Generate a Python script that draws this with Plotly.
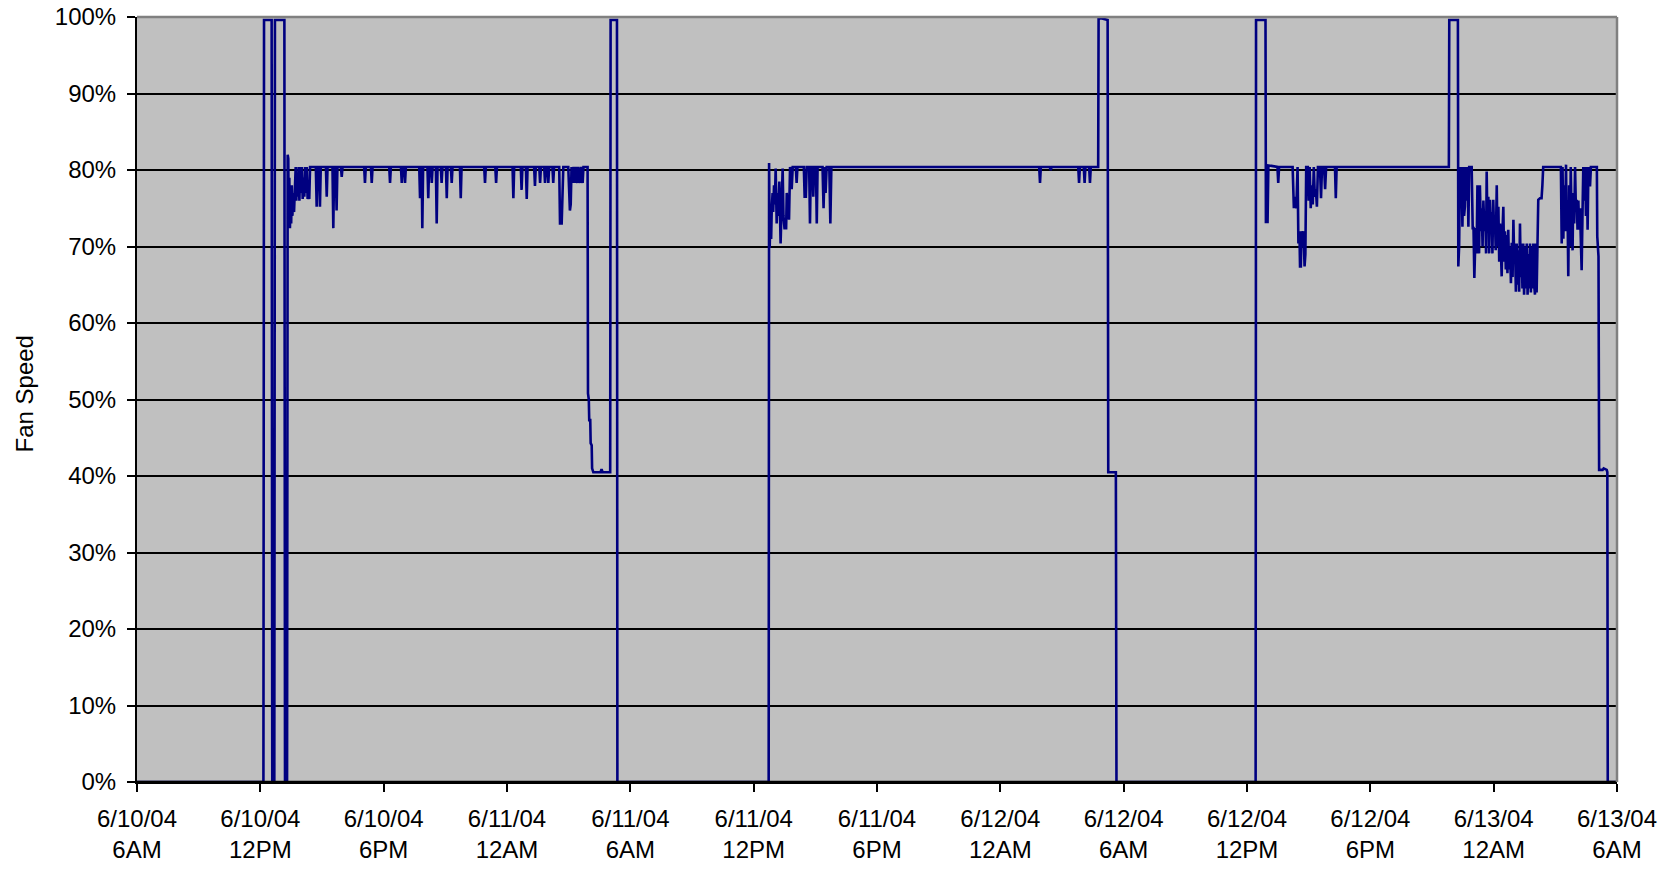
import pandas as pd
import plotly.graph_objects as go

# ---------------- data (hours after 6/10/04 6AM, fan speed %) ----------------
seg1_hours = [0, 6.15, 6.18, 6.55, 6.58, 6.68, 6.71, 7.17, 7.20, 7.30, 7.33, 7.36, 7.38, 7.41, 7.44,
              7.47, 7.50, 7.53, 7.56, 7.60, 7.64, 7.69, 7.72, 7.75, 7.78, 7.82, 7.86, 7.90, 7.94,
              7.98, 8.02, 8.06, 8.10, 8.14, 8.18, 8.22, 8.26, 8.30, 8.34, 8.38, 8.42, 8.70, 8.74,
              8.78, 8.86, 8.90, 8.94, 9.19, 9.23, 9.27, 9.51, 9.55, 9.59, 9.67, 9.71, 9.75, 9.92,
              9.96, 10.0, 11.05, 11.09, 11.13, 11.38, 11.42, 11.46, 12.27, 12.31, 12.35, 12.84,
              12.88, 12.92, 13.00, 13.04, 13.08, 13.73, 13.77, 13.81, 13.85, 13.88, 13.92, 14.13,
              14.17, 14.21, 14.30, 14.34, 14.38, 14.54, 14.58, 14.62, 14.78, 14.82, 14.86, 15.03,
              15.07, 15.11, 15.27, 15.31, 15.35, 15.71, 15.75, 15.79, 16.89, 16.93, 16.97, 17.43,
              17.47, 17.51, 18.27, 18.31, 18.35, 18.67, 18.71, 18.75, 18.92, 18.96, 19.00, 19.32,
              19.36, 19.40, 19.57, 19.61, 19.65, 19.81, 19.85, 19.89, 19.97, 20.01, 20.05, 20.21,
              20.25, 20.29, 20.54, 20.58, 20.66, 20.74, 20.98, 21.02, 21.06, 21.10, 21.14, 21.20,
              21.24, 21.30, 21.34, 21.42, 21.46, 21.55, 21.60, 21.68, 21.72, 21.92, 21.94, 21.98,
              22.00, 22.05, 22.07, 22.12, 22.14, 22.20, 22.55, 22.60, 22.65, 23.02, 23.04, 23.35,
              23.37]
seg1_speed = [0, 0, 99.6, 99.6, 0, 0, 99.6, 99.6, 0, 0, 82.0, 81.5, 73.5, 79.0, 72.4,
              76.0, 73.0, 78.0, 74.0, 77.0, 74.5, 80.4, 80.4, 76.0, 79.5, 76.5, 80.4, 76.0, 80.4,
              77.0, 80.4, 76.2, 79.0, 76.5, 80.4, 77.0, 80.4, 76.2, 78.5, 76.2, 80.4, 80.4, 75.2,
              80.4, 80.4, 75.2, 80.4, 80.4, 76.5, 80.4, 80.4, 72.4, 80.4, 80.4, 74.7, 80.4, 80.4,
              79.1, 80.4, 80.4, 78.3, 80.4, 80.4, 78.3, 80.4, 80.4, 78.3, 80.4, 80.4,
              78.3, 80.4, 80.4, 78.3, 80.4, 80.4, 76.3, 80.4, 80.4, 72.4, 80.4, 80.4,
              76.3, 80.4, 80.4, 78.3, 80.4, 80.4, 73.0, 80.4, 80.4, 78.3, 80.4, 80.4,
              76.3, 80.4, 80.4, 78.3, 80.4, 80.4, 76.3, 80.4, 80.4, 78.3, 80.4, 80.4,
              78.3, 80.4, 80.4, 76.3, 80.4, 80.4, 77.4, 80.4, 80.4, 76.2, 80.4, 80.4,
              77.9, 80.4, 80.4, 78.3, 80.4, 80.4, 78.3, 80.4, 80.4, 78.3, 80.4, 80.4,
              78.3, 80.4, 80.4, 73.0, 73.0, 80.4, 80.4, 77.9, 74.7, 75.5, 80.4, 78.3,
              80.4, 78.3, 80.4, 78.3, 80.4, 78.3, 80.4, 78.3, 80.4, 80.4, 50.8, 50.0,
              47.3, 47.3, 44.3, 44.0, 41.0, 40.5, 40.5, 40.9, 40.5, 40.5, 99.6, 99.6,
              0]

seg2_hours = [30.73, 30.75, 30.78, 30.82, 30.85, 30.88, 30.92, 30.95, 30.99, 31.03, 31.07, 31.12,
              31.16, 31.20, 31.25, 31.31, 31.36, 31.41, 31.45, 31.50, 31.58, 31.61, 31.66, 31.72,
              31.77, 31.85, 31.90, 32.05, 32.09, 32.13, 32.44, 32.48, 32.54, 32.58, 32.70, 32.74,
              32.78, 32.86, 32.90, 32.94, 33.03, 33.07, 33.11, 33.35, 33.40, 33.45, 33.50, 33.55,
              33.68, 33.73, 33.78, 43.89, 43.93, 43.97, 44.40, 44.45, 44.50, 45.79, 45.83, 45.87,
              46.06, 46.10, 46.14, 46.32, 46.36, 46.40, 46.76, 46.78, 46.95, 47.22, 47.25, 47.62,
              47.65]
seg2_speed = [0, 80.9, 69.8, 75.2, 71.0, 75.0, 77.0, 74.5, 78.0, 75.5, 80.2, 73.0,
              77.0, 74.0, 78.5, 70.4, 76.0, 80.2, 74.0, 72.4, 72.4, 77.0, 75.0, 73.5,
              80.4, 77.5, 80.4, 80.4, 78.3, 80.4, 80.4, 76.5, 76.5, 80.4, 80.4, 73.0,
              80.4, 80.4, 76.5, 80.4, 80.4, 73.0, 80.4, 80.4, 75.0, 80.4, 77.0, 80.4,
              80.4, 73.0, 80.4, 80.4, 78.3, 80.4, 80.4, 80.0, 80.4, 80.4, 78.3, 80.4,
              80.4, 78.3, 80.4, 80.4, 78.3, 80.4, 80.4, 99.8, 99.8, 99.6, 40.5, 40.5,
              0]

seg3_hours = [54.42, 54.44, 54.90, 54.92, 55.00, 55.04, 55.48, 55.52, 55.56, 56.22, 56.28, 56.32,
              56.40, 56.46, 56.50, 56.55, 56.58, 56.62, 56.65, 56.70, 56.75, 56.80, 56.84, 56.88,
              56.96, 57.00, 57.05, 57.10, 57.15, 57.20, 57.25, 57.30, 57.35, 57.40, 57.45, 57.55,
              57.60, 57.65, 57.75, 57.80, 57.85, 58.28, 58.32, 58.36, 63.82, 63.84, 64.26, 64.28]
seg3_speed = [0, 99.6, 99.6, 73.2, 73.2, 80.6, 80.4, 78.3, 80.4, 80.4, 75.0, 76.5,
              75.0, 80.4, 70.4, 72.0, 67.4, 67.4, 72.0, 70.0, 72.0, 67.4, 69.0, 80.4,
              80.4, 76.0, 80.4, 75.0, 78.0, 75.5, 80.4, 76.5, 77.5, 75.2, 80.4, 80.4,
              76.3, 80.4, 80.4, 77.5, 80.4, 80.4, 76.3, 80.4, 80.4, 99.6, 99.6, 67.4]

seg4_hours = [64.32, 64.36, 64.40, 64.44, 64.48, 64.52, 64.56, 64.60, 64.64, 64.69, 64.73, 64.77,
              64.81, 64.93, 64.98, 65.02, 65.06, 65.10, 65.14, 65.17, 65.21, 65.25, 65.29, 65.33,
              65.38, 65.42, 65.46, 65.50, 65.55, 65.60, 65.63, 65.66, 65.70, 65.74, 65.78, 65.82,
              65.86, 65.90, 65.94, 65.98, 66.02, 66.06, 66.10, 66.15, 66.19, 66.23, 66.27, 66.31,
              66.35, 66.39, 66.43, 66.47, 66.51, 66.55, 66.59, 66.63, 66.67, 66.71, 66.75, 66.79,
              66.84, 66.88, 66.92, 66.96, 67.00, 67.04, 67.08, 67.12, 67.16, 67.20, 67.24, 67.28,
              67.32, 67.36, 67.40, 67.44, 67.48, 67.52, 67.56, 67.61, 67.65, 67.69, 67.73, 67.77,
              67.81, 67.85, 67.89, 67.93, 67.97, 68.01, 68.05, 68.09, 68.13, 68.17, 68.25, 68.33,
              68.37, 68.41, 68.90, 69.23, 69.27, 69.31, 69.35, 69.39, 69.43, 69.47, 69.52, 69.55,
              69.59, 69.63, 69.67, 69.71, 69.75, 69.80, 69.84, 69.87, 69.92, 69.96, 70.00, 70.04,
              70.08, 70.12, 70.16, 70.20, 70.24, 70.28, 70.32, 70.36, 70.40, 70.45, 70.49, 70.53,
              70.57, 70.61, 70.65, 70.69, 70.73, 71.02, 71.04, 71.10, 71.13, 71.30, 71.35, 71.50,
              71.53, 71.55, 72.0]
seg4_speed = [70.0, 80.4, 75.0, 80.4, 72.6, 80.4, 74.0, 75.2, 80.4, 76.0, 80.4, 72.6,
              80.4, 80.4, 72.4, 72.4, 65.9, 70.0, 72.4, 69.1, 78.0, 76.0, 69.1, 78.0,
              72.0, 75.0, 70.0, 76.0, 72.0, 74.0, 69.1, 79.8, 72.0, 76.5, 69.1, 76.1,
              72.0, 74.5, 69.1, 76.1, 72.0, 74.0, 69.5, 78.0, 70.0, 75.2, 68.0, 73.0,
              67.8, 66.1, 72.0, 75.2, 68.0, 72.0, 67.0, 71.5, 66.5, 72.2, 67.0, 70.0,
              65.2, 70.5, 66.0, 73.5, 68.0, 70.4, 64.1, 70.4, 65.0, 69.5, 64.1, 73.0,
              66.0, 70.4, 64.5, 70.4, 63.7, 70.0, 64.5, 70.4, 63.7, 69.0, 64.5, 70.4,
              64.0, 70.0, 64.5, 70.4, 65.0, 63.7, 70.4, 64.0, 70.0, 76.1, 76.3, 76.3,
              78.0, 80.4, 80.4, 80.4, 80.4, 70.4, 80.4, 71.0, 78.0, 72.0, 80.7, 72.0,
              76.0, 66.1, 78.0, 70.0, 80.4, 72.0, 69.5, 77.0, 73.0, 80.4, 75.0, 76.1,
              72.2, 76.0, 72.2, 75.0, 72.0, 66.9, 74.0, 80.4, 76.0, 80.4, 74.0, 80.4,
              72.2, 80.4, 78.0, 78.0, 80.4, 80.4, 71.3, 68.7, 40.8, 40.8, 41.0, 40.8,
              40.5, 0, 0]

tick_hours = [0, 6, 12, 18, 24, 30, 36, 42, 48, 54, 60, 66, 72]
tick_labels = ["6/10/04<br>6AM", "6/10/04<br>12PM", "6/10/04<br>6PM", "6/11/04<br>12AM",
               "6/11/04<br>6AM", "6/11/04<br>12PM", "6/11/04<br>6PM", "6/12/04<br>12AM",
               "6/12/04<br>6AM", "6/12/04<br>12PM", "6/12/04<br>6PM", "6/13/04<br>12AM",
               "6/13/04<br>6AM"]
y_ticks = [0, 10, 20, 30, 40, 50, 60, 70, 80, 90, 100]
y_title = "Fan Speed"

# ---------------- build ----------------
start = pd.Timestamp("2004-06-10 06:00")
hours = seg1_hours + seg2_hours + seg3_hours + seg4_hours
speed = seg1_speed + seg2_speed + seg3_speed + seg4_speed
times = start + pd.to_timedelta(hours, unit="h")
tick_times = start + pd.to_timedelta(tick_hours, unit="h")

FONT = "Liberation Sans, Arial, sans-serif"

fig = go.Figure()
fig.add_trace(go.Scatter(x=times, y=speed, mode="lines",
                         line=dict(color="#000080", width=2.6),
                         hoverinfo="x+y", showlegend=False))

fig.update_layout(
    width=1675, height=869,
    margin=dict(l=137, r=58, t=17, b=87),
    paper_bgcolor="white", plot_bgcolor="#C0C0C0",
    font=dict(family=FONT, size=24, color="black"),
    showlegend=False,
)
fig.update_xaxes(
    type="date", automargin=False,
    range=[tick_times[0], tick_times[-1]],
    tickmode="array", tickvals=list(tick_times), ticktext=tick_labels,
    showgrid=False, zeroline=False,
    showline=True, linecolor="black", linewidth=2,
    ticks="outside", ticklen=8, tickwidth=2, tickcolor="black",
    tickfont=dict(family=FONT, size=24, color="black"),
    ticklabelstandoff=6,
)
fig.update_yaxes(
    range=[0, 100], automargin=False,
    tickmode="array", tickvals=y_ticks, ticktext=[f"{v}%" for v in y_ticks],
    showgrid=True, gridcolor="black", gridwidth=1.7,
    zeroline=False,
    showline=True, linecolor="black", linewidth=2,
    ticks="outside", ticklen=8, tickwidth=2, tickcolor="black",
    tickfont=dict(family=FONT, size=24, color="black"),
    ticklabelstandoff=6,
)
# frame: black bottom (covers 0% line like the original), gray top and right
fig.add_shape(type="line", xref="paper", yref="paper", x0=0, x1=1, y0=0, y1=0,
              line=dict(color="black", width=2.5), layer="above")
fig.add_shape(type="line", xref="paper", yref="paper", x0=0, x1=1, y0=1, y1=1,
              line=dict(color="#808080", width=2.5), layer="above")
fig.add_shape(type="line", xref="paper", yref="paper", x0=1, x1=1, y0=0, y1=1,
              line=dict(color="#808080", width=2.5), layer="above")

fig.add_annotation(text=y_title, textangle=-90, xref="paper", yref="paper",
                   x=(24 - 137) / 1480, y=(782 - 455) / 765,
                   xanchor="center", yanchor="bottom", showarrow=False,
                   font=dict(family=FONT, size=24, color="black"))

fig.write_html("out.html", config={"displayModeBar": False},
               post_script="document.body.style.margin='0';")
